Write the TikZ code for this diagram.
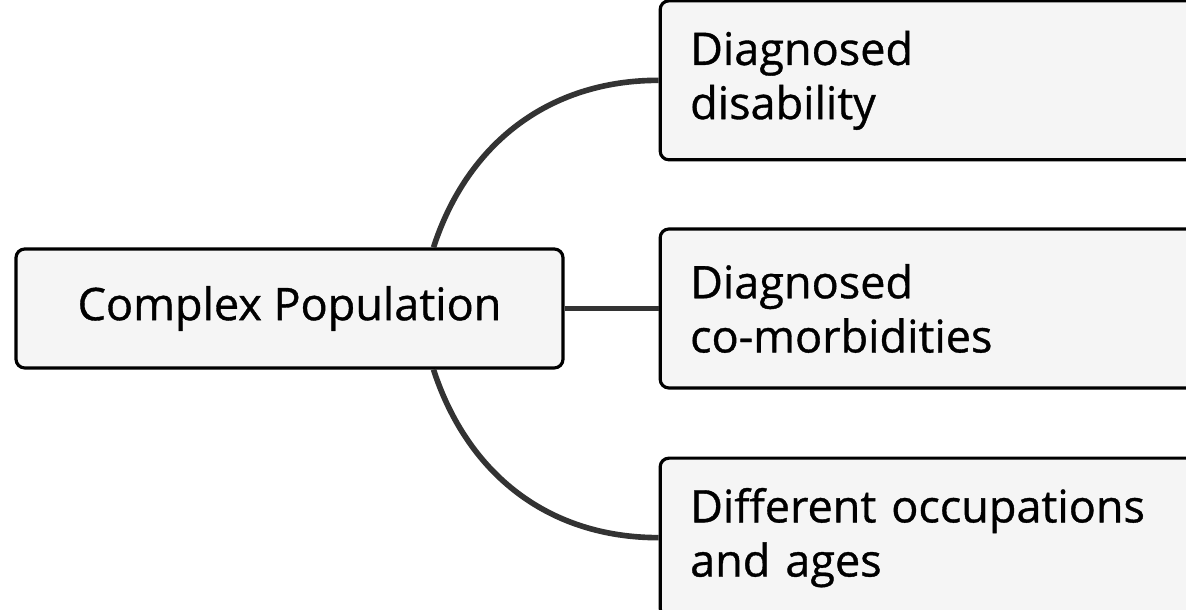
\documentclass[tikz,border=0pt]{standalone}
\usepackage{fontspec}
\newfontfamily\boxfont{Open Sans}[FakeBold=0.8]
\usetikzlibrary{positioning}

\definecolor{boxfill}{HTML}{F5F5F5}
\definecolor{linkgray}{HTML}{333333}

\begin{document}
\begin{tikzpicture}[
  node distance=0.66cm and 0.94cm,
  root/.style={rectangle, rounded corners=2.5pt, draw, line width=0.9pt,
               fill=boxfill, minimum width=5.47cm, minimum height=1.19cm,
               align=center, font=\boxfont\fontsize{12.8}{15.4}\selectfont},
  leaf/.style={rectangle, rounded corners=2.5pt, draw, line width=0.9pt,
               fill=boxfill, text width=5.4cm, inner xsep=0.30cm,
               minimum height=1.59cm, align=left,
               font=\boxfont\fontsize{12.8}{15.4}\selectfont},
  link/.style={line width=1.6pt, draw=linkgray},
]
\useasboundingbox (0,0) rectangle (11.86,-6.10);
% Nodo central
\node[root] (pop) at (2.895,-3.085) {Complex Population};
% Ramas a la derecha
\node[leaf, right=of pop]         (comorb) {Diagnosed\\co-morbidities};
\node[leaf, above=0.66cm of comorb] (disab)  {Diagnosed\\disability};
\node[leaf, below=0.67cm of comorb] (ages)   {Different occupations\\and ages};
% Conexiones
\draw[link] ([xshift=1.44cm]pop.north) to[out=72, in=180] (disab.west);
\draw[link] (pop) -- (comorb);
\draw[link] ([xshift=1.44cm]pop.south) to[out=-72, in=180] (ages.west);
\end{tikzpicture}
\end{document}
